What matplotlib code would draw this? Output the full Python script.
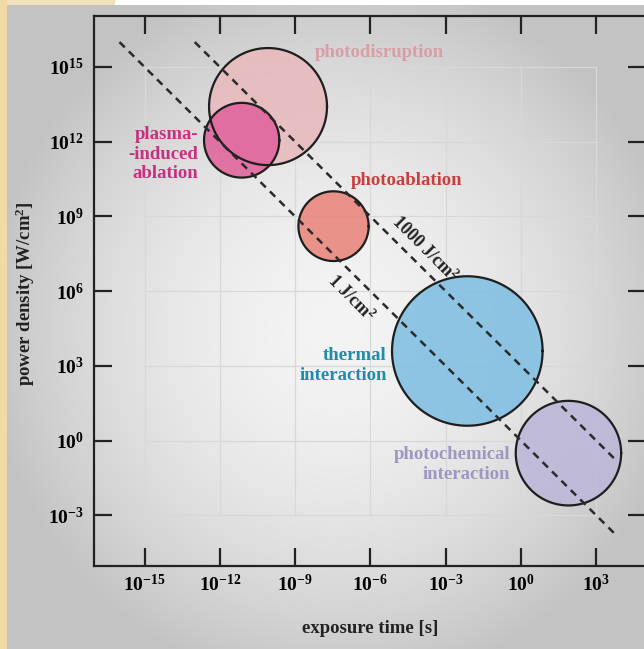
import numpy as np
import matplotlib
matplotlib.use("Agg")
import matplotlib.pyplot as plt
from matplotlib.ticker import FixedLocator, FuncFormatter, NullLocator

plt.rcParams["font.family"] = ["Liberation Serif", "DejaVu Serif"]
plt.rcParams["font.weight"] = "bold"
plt.rcParams["mathtext.fontset"] = "custom"
plt.rcParams["mathtext.rm"] = "Liberation Serif:bold"
plt.rcParams["mathtext.bf"] = "Liberation Serif:bold"
plt.rcParams["mathtext.it"] = "Liberation Serif:bold"

# Interaction regimes: centre (log10 exposure time, log10 power density), radius in decades
regimes = ["photodisruption", "plasma-induced ablation", "photoablation",
           "thermal interaction", "photochemical interaction"]
log_time_centre = [-10.08, -11.13, -7.47, -2.14, 1.89]
log_power_centre = [13.41, 12.06, 8.61, 3.60, -0.50]
radius_decades = [2.35, 1.50, 1.40, 3.00, 2.10]
fill_colors = ["#e8babd", "#e0639c", "#e9857c", "#80bfe2", "#bcb7d8"]

label_texts = ["photodisruption", "plasma-\n-induced\nablation", "photoablation",
               "thermal\ninteraction", "photochemical\ninteraction"]
label_log_time = [-5.66, -12.86, -4.54, -5.34, -0.44]
label_log_power = [15.58, 11.50, 10.43, 3.01, -0.96]
label_ha = ["center", "right", "center", "right", "right"]
label_colors = ["#d89ea5", "#c8307f", "#c83f3d", "#1f8cab", "#9c97c3"]

# Constant-fluence lines (J/cm^2): power density = fluence / exposure time
fluences = [1, 1000]
fluence_t_start = [1e-16, 1e-13]
fluence_t_end = [10 ** 3.8, 10 ** 3.8]
fluence_labels = ["1 J/cm$^2$", "1000 J/cm$^2$"]
fluence_label_log_time = [-6.77, -3.85]
fluence_label_log_power = [5.70, 7.72]

x_tick_exps = [-15, -12, -9, -6, -3, 0, 3]
y_tick_exps = [-3, 0, 3, 6, 9, 12, 15]

W, H = 644, 649
fig = plt.figure(figsize=(W / 100, H / 100), dpi=100)

# Backdrop: grey vignette panel with a beige border strip
bg = fig.add_axes([0, 0, 1, 1], zorder=0)
yy, xx = np.mgrid[0:H, 0:W]
d = np.sqrt(((xx - 335) / 330.0) ** 2 + ((yy - 330) / 340.0) ** 2)
v = np.clip(0.955 - 0.17 * d ** 1.8, 0.765, 1.0)
img = np.dstack([v, v, v])
bg.imshow(img, extent=(0, W, H, 0), aspect="auto", interpolation="bilinear")
bg.add_patch(plt.Rectangle((0, 0), W, 5, color="white", lw=0))
bg.add_patch(plt.Rectangle((0, 0), 115, 5, color="#f0e2bb", lw=0))
bg.add_patch(plt.Rectangle((0, 0), 7, H, color="#efdba3", lw=0))
bg.set_xlim(0, W)
bg.set_ylim(H, 0)
bg.axis("off")

ax = fig.add_axes([93.6 / W, 1 - 566 / H, 552.4 / W, 549.6 / H], zorder=1)
ax.patch.set_alpha(0)
ax.set_xscale("log")
ax.set_yscale("log")
ax.set_xlim(10 ** -17.03, 10 ** 4.98)
ax.set_ylim(10 ** -5.03, 10 ** 17.03)

# Grid confined to the labelled decades
grid_color = "#d8d8d8"
for e in x_tick_exps:
    ax.plot([10.0 ** e, 10.0 ** e], [1e-3, 1e15], color=grid_color, lw=0.9, zorder=1)
for e in y_tick_exps:
    ax.plot([1e-15, 1e3], [10.0 ** e, 10.0 ** e], color=grid_color, lw=0.9, zorder=1)

# Regime circles, drawn round in log-log space
theta = np.linspace(0, 2 * np.pi, 361)
for cx, cy, r, fc in zip(log_time_centre, log_power_centre, radius_decades, fill_colors):
    xs = 10 ** (cx + r * np.cos(theta))
    ys = 10 ** (cy + r * np.sin(theta))
    ax.fill(xs, ys, facecolor=fc, alpha=0.88, edgecolor="none", zorder=2)
    ax.plot(xs, ys, color="#1e1e1e", lw=1.6, zorder=3)

# Constant-fluence lines
for F, t0, t1 in zip(fluences, fluence_t_start, fluence_t_end):
    t = np.array([t0, t1])
    ax.plot(t, F / t, color="#2a2a2a", lw=1.8, ls=(0, (3.0, 2.3)), zorder=4)

for txt, lt, lp in zip(fluence_labels, fluence_label_log_time, fluence_label_log_power):
    ax.text(10 ** lt, 10 ** lp, txt, fontsize=13, fontweight="bold", color="#222222",
            rotation=-45, rotation_mode="anchor", ha="center", va="center", zorder=5)

for txt, lt, lp, ha, c in zip(label_texts, label_log_time, label_log_power, label_ha, label_colors):
    ax.text(10 ** lt, 10 ** lp, txt, fontsize=13.5, fontweight="bold", color=c,
            ha=ha, va="center", multialignment=ha, linespacing=1.2, zorder=5)

# Axes frame and ticks
for s in ax.spines.values():
    s.set_linewidth(1.6)
    s.set_color("#222222")
    s.set_zorder(6)

ax.xaxis.set_major_locator(FixedLocator([10.0 ** e for e in x_tick_exps]))
ax.yaxis.set_major_locator(FixedLocator([10.0 ** e for e in y_tick_exps]))
ax.xaxis.set_minor_locator(NullLocator())
ax.yaxis.set_minor_locator(NullLocator())
fmt = FuncFormatter(lambda val, pos: r"$10^{%d}$" % int(round(np.log10(val))))
ax.xaxis.set_major_formatter(fmt)
ax.yaxis.set_major_formatter(fmt)
ax.tick_params(which="major", direction="in", length=13, width=1.6, color="#222222",
               top=True, right=True, labelsize=14)
ax.tick_params(axis="x", pad=6)
ax.tick_params(axis="y", pad=7)

ax.set_xlabel("exposure time [s]", fontsize=13.5, fontweight="bold", color="#222222")
ax.set_ylabel("power density [W/cm$^2$]", fontsize=13.5, fontweight="bold", color="#222222")
ax.xaxis.set_label_coords(0.5, -0.113)
ax.yaxis.set_label_coords(-0.123, 0.495)
ax.xaxis.label.set_va("center")
ax.yaxis.label.set_va("center")

fig.savefig("out.png", dpi=100)
